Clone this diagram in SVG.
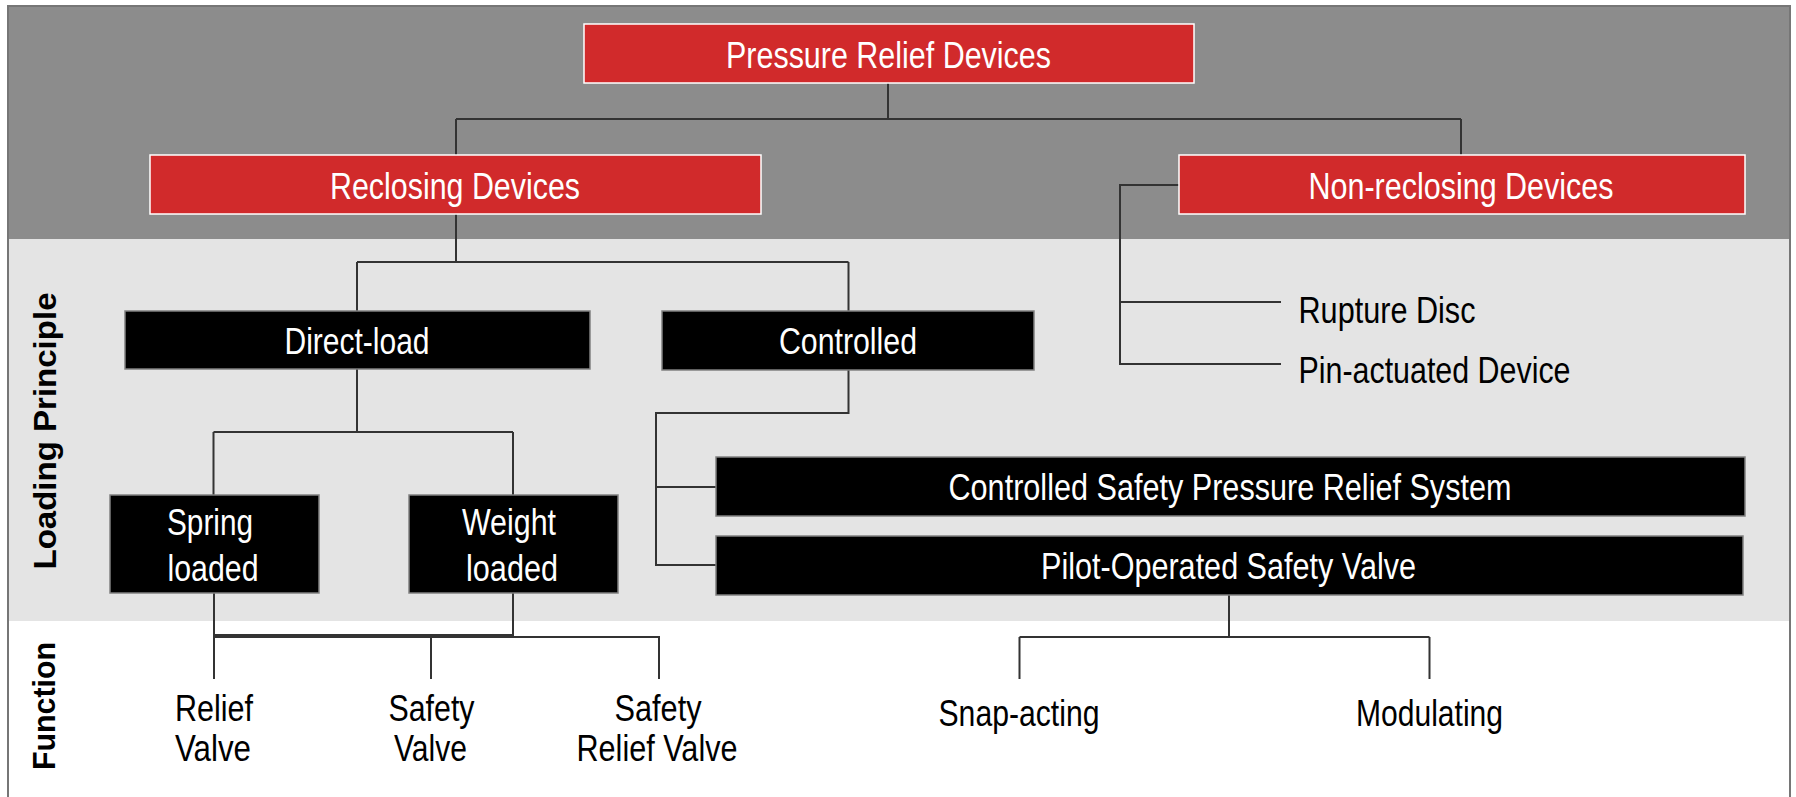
<svg xmlns="http://www.w3.org/2000/svg" width="1796" height="797" viewBox="0 0 1796 797">
<style>
.red{fill:#d12a2b;stroke:#ffffff;stroke-width:1.5}
.blk{fill:#000000;stroke:#808080;stroke-width:1.5}
.t{font-family:"Liberation Sans Narrow","Liberation Sans",Arial,sans-serif;font-size:36px;text-anchor:middle}
.w{fill:#ffffff}
.k{fill:#000000}
.side{font-family:"Liberation Sans",Arial,sans-serif;font-weight:bold;font-size:32px;text-anchor:middle;fill:#000000}
.c{fill:none;stroke:#333333;stroke-width:2}
</style>
<rect x="0" y="0" width="1796" height="797" fill="#ffffff"/>
<g id="bands">
<rect x="8" y="6" width="1782" height="233" fill="#8c8c8c"/>
<rect x="8" y="239" width="1782" height="382" fill="#e4e4e4"/>
<rect x="8" y="621" width="1782" height="180" fill="#ffffff"/>
<rect x="8" y="6" width="1782" height="800" fill="none" stroke="#767676" stroke-width="2"/>
</g>
<g id="side-labels">
<text class="side" transform="translate(56,431) rotate(-90)" textLength="277" lengthAdjust="spacingAndGlyphs">Loading Principle</text>
<text class="side" transform="translate(55,706) rotate(-90)" textLength="128" lengthAdjust="spacingAndGlyphs">Function</text>
</g>
<g id="connectors">
<path class="c" d="M888,83 V119 M456,119 H1461 M456,119 V155 M1461,119 V155"/>
<path class="c" d="M1179,185 H1120 V364 H1281 M1120,302 H1281"/>
<path class="c" d="M456,214 V262 M357,262 H848.5 M357,262 V311 M848.5,262 V311"/>
<path class="c" d="M357,369 V432 M213.5,432 H513 M213.5,432 V495 M513,432 V495"/>
<path class="c" d="M848.5,370 V413 H656 V565 H716 M656,487 H716"/>
<path class="c" d="M214,593 V679 M513,593 V635 H214 M214,637 H659 V679 M431,637 V679"/>
<path class="c" d="M1229,595 V637 M1019.5,637 H1429.5 M1019.5,637 V679 M1429.5,637 V679"/>
</g>
<g id="pressure-relief-devices">
<rect class="red" x="584" y="24" width="610" height="59"/>
<text class="t w" x="888.5" y="68" textLength="325" lengthAdjust="spacingAndGlyphs">Pressure Relief Devices</text>
</g>
<g id="reclosing-devices">
<rect class="red" x="150" y="155" width="611" height="59"/>
<text class="t w" x="455" y="199" textLength="250" lengthAdjust="spacingAndGlyphs">Reclosing Devices</text>
</g>
<g id="non-reclosing-devices">
<rect class="red" x="1179" y="155" width="566" height="59"/>
<text class="t w" x="1461" y="199" textLength="305" lengthAdjust="spacingAndGlyphs">Non-reclosing Devices</text>
</g>
<g id="rupture-disc">
<text class="t k" x="1298.5" y="323" style="text-anchor:start" textLength="177" lengthAdjust="spacingAndGlyphs">Rupture Disc</text>
</g>
<g id="pin-actuated-device">
<text class="t k" x="1298.5" y="383" style="text-anchor:start" textLength="272" lengthAdjust="spacingAndGlyphs">Pin-actuated Device</text>
</g>
<g id="direct-load">
<rect class="blk" x="125" y="311" width="465" height="58"/>
<text class="t w" x="357" y="354" textLength="145" lengthAdjust="spacingAndGlyphs">Direct-load</text>
</g>
<g id="controlled">
<rect class="blk" x="662" y="311" width="372" height="59"/>
<text class="t w" x="848" y="354" textLength="138" lengthAdjust="spacingAndGlyphs">Controlled</text>
</g>
<g id="spring-loaded">
<rect class="blk" x="110" y="495" width="209" height="98"/>
<text class="t w" x="210" y="535" textLength="86" lengthAdjust="spacingAndGlyphs">Spring</text>
<text class="t w" x="213" y="581" textLength="91" lengthAdjust="spacingAndGlyphs">loaded</text>
</g>
<g id="weight-loaded">
<rect class="blk" x="409" y="495" width="209" height="98"/>
<text class="t w" x="509" y="535" textLength="94" lengthAdjust="spacingAndGlyphs">Weight</text>
<text class="t w" x="512" y="581" textLength="92" lengthAdjust="spacingAndGlyphs">loaded</text>
</g>
<g id="controlled-safety-pressure-relief-system">
<rect class="blk" x="716" y="457" width="1029" height="59"/>
<text class="t w" x="1230" y="500" textLength="563" lengthAdjust="spacingAndGlyphs">Controlled Safety Pressure Relief System</text>
</g>
<g id="pilot-operated-safety-valve">
<rect class="blk" x="716" y="536" width="1027" height="59"/>
<text class="t w" x="1228.5" y="579" textLength="375" lengthAdjust="spacingAndGlyphs">Pilot-Operated Safety Valve</text>
</g>
<g id="relief-valve">
<text class="t k" x="214" y="721" textLength="78" lengthAdjust="spacingAndGlyphs">Relief</text>
<text class="t k" x="213" y="761" textLength="76" lengthAdjust="spacingAndGlyphs">Valve</text>
</g>
<g id="safety-valve">
<text class="t k" x="431.5" y="721" textLength="86" lengthAdjust="spacingAndGlyphs">Safety</text>
<text class="t k" x="430.5" y="761" textLength="73" lengthAdjust="spacingAndGlyphs">Valve</text>
</g>
<g id="safety-relief-valve">
<text class="t k" x="658" y="721" textLength="87" lengthAdjust="spacingAndGlyphs">Safety</text>
<text class="t k" x="657" y="761" textLength="161" lengthAdjust="spacingAndGlyphs">Relief Valve</text>
</g>
<g id="snap-acting">
<text class="t k" x="1019" y="726" textLength="161" lengthAdjust="spacingAndGlyphs">Snap-acting</text>
</g>
<g id="modulating">
<text class="t k" x="1429.5" y="726" textLength="147" lengthAdjust="spacingAndGlyphs">Modulating</text>
</g>
</svg>
